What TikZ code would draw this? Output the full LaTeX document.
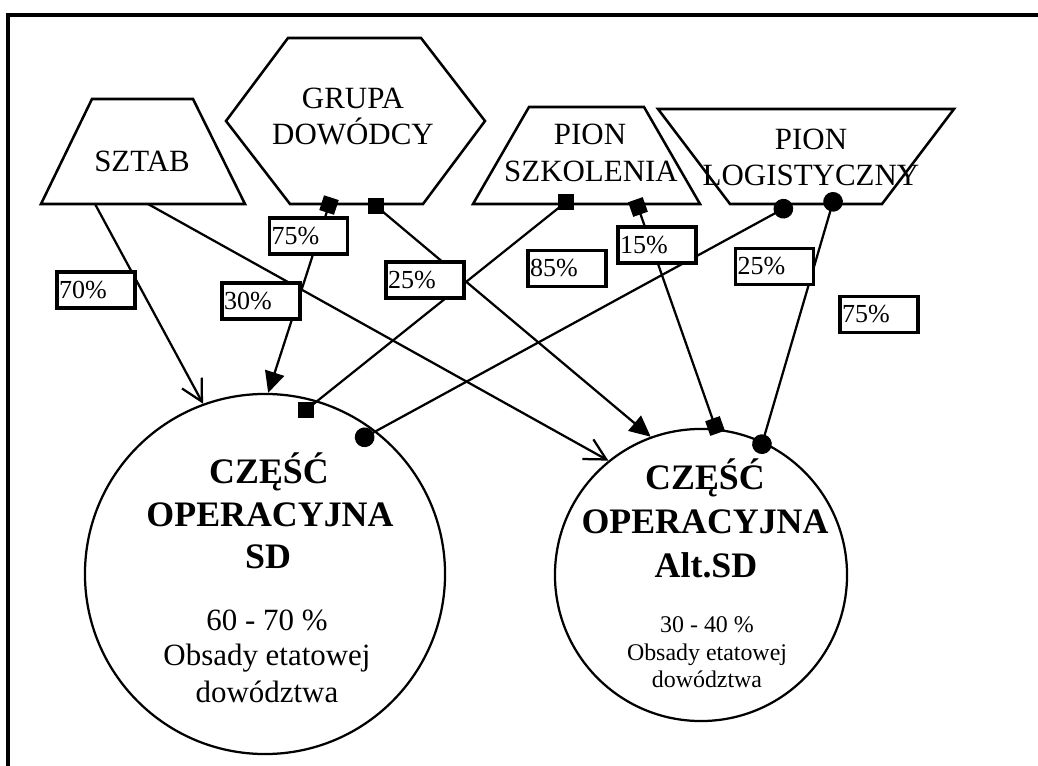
\documentclass[tikz,border=0pt]{standalone}
\usepackage{fontspec}
\setmainfont{Liberation Serif}
\usetikzlibrary{arrows.meta}

\begin{document}
\begin{tikzpicture}[x=0.025cm, y=-0.025cm,
  ksztalt/.style={line width=1.8pt, line join=miter},
  linia/.style={line width=1.6pt},
  kolo/.style={draw, circle, line width=1.6pt, inner sep=0pt},
  pole/.style={draw, line width=2.3pt, fill=white, minimum height=0.9cm, text width=1.84cm,
    inner xsep=0.055cm, inner ysep=0pt, align=left, font=\fontsize{18.5}{20}\selectfont},
  kwadrat/.style={fill, rectangle, minimum size=0.4cm, inner sep=0pt},
  napis/.style={anchor=base, inner sep=0pt, font=\fontsize{22}{24}\selectfont},
  tytul/.style={anchor=base, inner sep=0pt, font=\fontsize{25.5}{30}\selectfont\bfseries},
  opis/.style={anchor=base, inner sep=0pt, font=\fontsize{22}{25}\selectfont},
  opismaly/.style={anchor=base, inner sep=0pt, font=\fontsize{17}{20}\selectfont},
  otwarta/.style={-{Straight Barb[length=15pt, width=16pt]}},
  pelna/.style={-{Triangle[length=15pt, width=14pt]}},
  sq/.style={{Square[length=11pt, width=11pt]}-{Square[length=11pt, width=11pt]}},
  kk/.style={{Circle[length=14pt]}-{Circle[length=14pt]}}
]
\useasboundingbox (0,0) rectangle (1038,766);
% Ramka
\draw[line width=2.2pt] (1038,15) -- (8,15) -- (8,766);
% Sztab
\draw[ksztalt] (92,99) -- (193,99) -- (245,204) -- (41,204) -- cycle;
\node[napis] (sztab) at (142,172) {SZTAB};
% Grupa dowodcy
\draw[ksztalt] (288,38) -- (421,38) -- (485,121) -- (423,204) -- (290,204) -- (226,121) -- cycle;
\node[napis] (grupa1) at (353,109) {GRUPA};
\node[napis] (grupa2) at (353,145) {DOWÓDCY};
% Pion szkolenia
\draw[ksztalt] (529,107) -- (644,107) -- (700,204) -- (473,204) -- cycle;
\node[napis] (szk1) at (590,145) {PION};
\node[napis] (szk2) at (591,182) {SZKOLENIA};
% Pion logistyczny
\draw[ksztalt] (658,109) -- (954,109) -- (882,204) -- (730,204) -- cycle;
\node[napis] (log1) at (811,150) {PION};
\node[napis] (log2) at (811,186) {LOGISTYCZNY};
% Czesci operacyjne
\node[kolo, minimum size=9cm] (c1) at (265,574) {};
\node[kolo, minimum size=7.3cm] (c2) at (701,575) {};
\node[tytul] (c1a) at (269,483) {CZĘŚĆ};
\node[tytul] (c1b) at (270,526) {OPERACYJNA};
\node[tytul] (c1c) at (268,568) {SD};
\node[opis] (c1d) at (267,630) {60 - 70 \%};
\node[opis] (c1e) at (267,665) {Obsady etatowej};
\node[opis] (c1f) at (267,702) {dowództwa};
\node[tytul] (c2a) at (705,490) {CZĘŚĆ};
\node[tytul] (c2b) at (705,533) {OPERACYJNA};
\node[tytul] (c2c) at (706,577) {Alt.SD};
\node[opismaly] (c2d) at (707,632) {30 - 40 \%};
\node[opismaly] (c2e) at (707,660) {Obsady etatowej};
\node[opismaly] (c2f) at (707,687) {dowództwa};
% Punkty zaczepienia
\coordinate (sz1) at (95,204);
\coordinate (sz2) at (148,204);
\coordinate (gd1) at (331.4,197.7);
\coordinate (ps2) at (635.4,199.7);
\coordinate (ps2k) at (717.6,433.3);
\coordinate (pl1) at (792,204);
\coordinate (pl1k) at (356,442);
\coordinate (pl2) at (835.8,192.4);
\coordinate (pl2k) at (759.2,453.6);
\node[kwadrat] (gd2) at (376,206) {};
\node[kwadrat] (ps1) at (566,202) {};
\node[kwadrat] (ps1k) at (306,410) {};
% Polaczenia
\draw[linia, otwarta] (sz1) -- (c1.110);
\draw[linia, otwarta] (sz2) -- (c2.129);
\draw[linia, {Square[length=11pt, width=11pt]}-{Triangle[length=15pt, width=14pt]}] (gd1) -- (c1.89);
\draw[linia, pelna] (gd2.center) -- (c2.110);
\draw[linia] (ps1.center) -- (ps1k.center);
\draw[linia, sq] (ps2) -- (ps2k);
\draw[linia, kk] (pl1) -- (pl1k);
\draw[linia, kk] (pl2) -- (pl2k);
\node[kwadrat] at (gd2) {};
\node[kwadrat] at (ps1) {};
\node[kwadrat] at (ps1k) {};
% Udzialy procentowe
\node[pole] (p70) at (96,290) {70\%};
\node[pole] (p75a) at (308.5,236) {75\%};
\node[pole] (p30) at (261,301) {30\%};
\node[pole] (p25a) at (425,280) {25\%};
\node[pole] (p85) at (567,268.5) {85\%};
\node[pole] (p15) at (657,245) {15\%};
\node[pole] (p25b) at (774.5,266.5) {25\%};
\node[pole] (p75b) at (879,314.5) {75\%};
\end{tikzpicture}
\end{document}
